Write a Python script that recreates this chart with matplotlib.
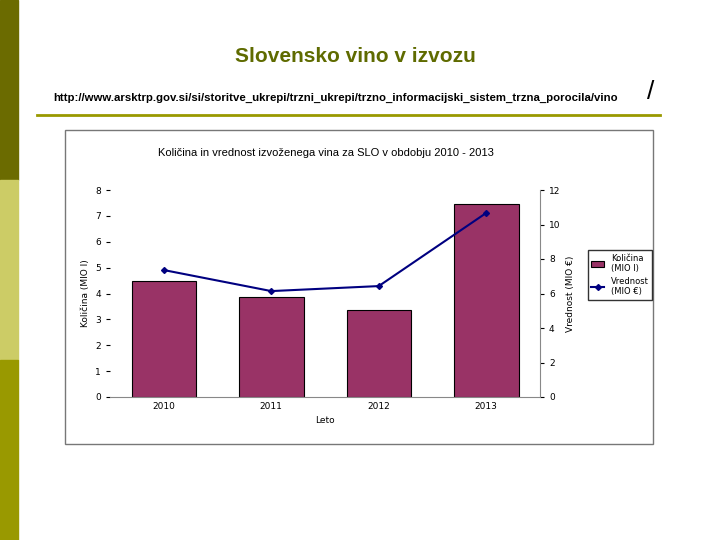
import matplotlib
matplotlib.use("Agg")
import matplotlib.pyplot as plt
from matplotlib.patches import Rectangle
from matplotlib.lines import Line2D

years = ["2010", "2011", "2012", "2013"]
kolicina = [4.48, 3.86, 3.36, 7.45]
vrednost = [7.36, 6.14, 6.43, 10.67]

W, H = 720, 540
fig = plt.figure(figsize=(7.2, 5.4), dpi=100)
fig.patch.set_facecolor("white")

def fx(x): return x / W
def fy(y): return 1 - y / H

for y0, y1, c in [(0, 180, "#6b6b00"), (180, 360, "#cccc66"), (360, 540, "#999900")]:
    fig.patches.append(Rectangle((0, fy(y1)), fx(18), (y1 - y0) / H, transform=fig.transFigure, color=c, zorder=-10))

fig.text(fx(355), fy(57), "Slovensko vino v izvozu", ha="center", va="center", fontsize=15, color="#5f6b00",
         family="Liberation Sans", fontweight="bold")
fig.text(fx(53), fy(98), "http://www.arsktrp.gov.si/si/storitve_ukrepi/trzni_ukrepi/trzno_informacijski_sistem_trzna_porocila/vino",
         ha="left", va="center", fontsize=8.2, family="Liberation Sans", fontweight="bold")
fig.text(fx(647), fy(92), "/", ha="left", va="center", fontsize=19, family="Liberation Sans")
fig.lines.append(Line2D([fx(37), fx(660)], [fy(115), fy(115)], transform=fig.transFigure, color="#999900", lw=2))

fig.patches.append(Rectangle((fx(65), fy(444)), fx(653 - 65), (444 - 130) / H, transform=fig.transFigure,
                             facecolor="white", edgecolor="#777777", lw=1, zorder=-10))
fig.text(fx(326), fy(153), "Količina in vrednost izvoženega vina za SLO v obdobju 2010 - 2013",
         ha="center", va="center", fontsize=8, family="Liberation Sans")

ax = fig.add_axes([fx(110), fy(397), fx(540 - 110), (397 - 190) / H])
ax.patch.set_alpha(0)
x = list(range(len(years)))
bars = ax.bar(x, kolicina, width=0.6, color="#993366", edgecolor="black", lw=0.8, label="Količina\n(MIO l)")
ax.set_ylim(0, 8)
ax.set_xlim(-0.5, 3.5)
ax.set_xticks(x)
ax.set_xticklabels(years, fontsize=6.5)
ax.set_yticks(range(0, 9))
ax.tick_params(axis="y", labelsize=6.5, length=3)
ax.tick_params(axis="x", length=0)
for s in ["top", "right", "left"]:
    ax.spines[s].set_visible(False)
ax.spines["bottom"].set_color("#888888")
ax.set_ylabel("Količina (MIO l)", fontsize=6.5)
ax.set_xlabel("Leto", fontsize=6.5, labelpad=4)

ax2 = ax.twinx()
ln, = ax2.plot(x, vrednost, color="#000080", marker="D", ms=3, lw=1.5, label="Vrednost\n(MIO €)")
ax2.set_ylim(0, 12)
ax2.set_yticks(range(0, 13, 2))
ax2.tick_params(axis="y", labelsize=6.5, length=3)
for s in ["top", "left", "bottom"]:
    ax2.spines[s].set_visible(False)
ax2.spines["right"].set_color("#888888")
ax2.set_ylabel("Vrednost (MIO €)", fontsize=6.5)

fig.legend(handles=[bars, ln], loc="center", bbox_to_anchor=(fx(620), fy(275)), fontsize=6,
           frameon=True, edgecolor="black", fancybox=False, handlelength=1.5)

fig.savefig("out.png", dpi=100)
